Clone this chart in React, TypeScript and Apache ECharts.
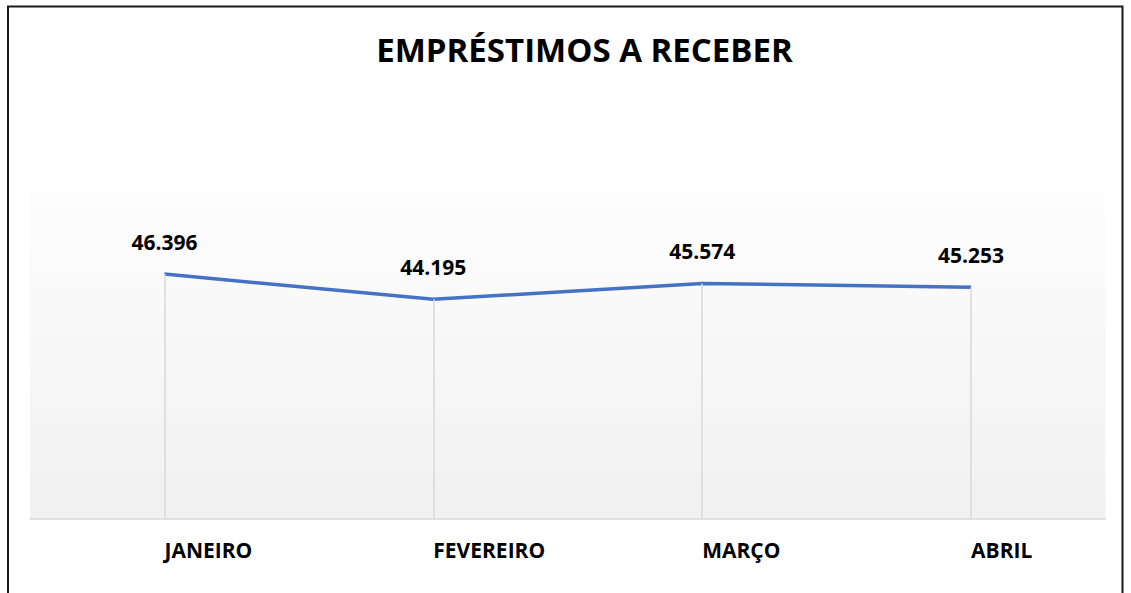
import React, { useEffect, useRef } from "react";
import * as echarts from "echarts";

const TITLE = "EMPRÉSTIMOS A RECEBER";
const categories = ["JANEIRO", "FEVEREIRO", "MARÇO", "ABRIL"];
const values = [46396, 44195, 45574, 45253];
const yMin = 25000;
const yMax = 55400;

const fmt = (v: number) => {
  const s = Math.round(v).toString();
  return s.replace(/\B(?=(\d{3})+(?!\d))/g, ".");
};

export default function App() {
  const ref = useRef<HTMLDivElement>(null);
  useEffect(() => {
    document.body.style.margin = "0";
    document.body.style.overflow = "hidden";
    const chart = echarts.init(ref.current!, null, { renderer: "svg" });
    const font = "'Open Sans', 'Noto Sans', sans-serif";
    chart.setOption({
      animation: false,
      backgroundColor: "#ffffff",
      grid: {
        left: 30,
        right: 25.5,
        top: 171,
        bottom: 74,
        show: true,
        borderWidth: 0,
        backgroundColor: new echarts.graphic.LinearGradient(0, 0, 0, 1, [
          { offset: 0, color: "#fefefe" },
          { offset: 1, color: "#f1f1f1" },
        ]),
      },
      graphic: [
        {
          type: "rect",
          shape: { x: 8, y: 6.5, width: 1114.5, height: 620 },
          style: { fill: "none", stroke: "#1a1a1a", lineWidth: 2 },
          silent: true,
        },
        {
          type: "text",
          x: 584.5,
          y: 49.5,
          style: {
            text: TITLE,
            align: "center",
            verticalAlign: "middle",
            fontFamily: font,
            fontWeight: "bold",
            fontSize: 33,
            fill: "#000000",
          },
        },
      ],
      xAxis: {
        type: "category",
        data: categories,
        boundaryGap: true,
        axisLine: { show: true, lineStyle: { color: "#d9d9d9", width: 1.5 } },
        axisTick: { show: false },
        axisLabel: {
          align: "left",
          margin: 20,
          color: "#000000",
          fontFamily: font,
          fontWeight: "bold",
          fontSize: 21,
        },
        splitLine: { show: false },
      },
      yAxis: {
        type: "value",
        min: yMin,
        max: yMax,
        show: false,
        splitLine: { show: false },
      },
      series: [
        {
          type: "line",
          data: values,
          showSymbol: true,
          symbol: "circle",
          symbolSize: 0,
          lineStyle: { color: "#4472C4", width: 3.5 },
          itemStyle: { color: "#4472C4" },
          label: {
            show: true,
            position: "top",
            distance: 22,
            color: "#000000",
            fontFamily: font,
            fontWeight: "bold",
            fontSize: 21,
            formatter: (p: any) => fmt(p.value),
          },
          markLine: {
            silent: true,
            symbol: ["none", "none"],
            label: { show: false },
            lineStyle: { color: "#d9d9d9", width: 1.5, type: "solid" },
            data: categories.map((c, i) => [
              { coord: [c, yMin] },
              { coord: [c, values[i]] },
            ]),
          },
          z: 3,
        },
      ],
    });
    return () => chart.dispose();
  }, []);
  return (
    <div
      ref={ref}
      style={{ position: "absolute", left: 0, top: 0, width: 1131, height: 593 }}
    />
  );
}
